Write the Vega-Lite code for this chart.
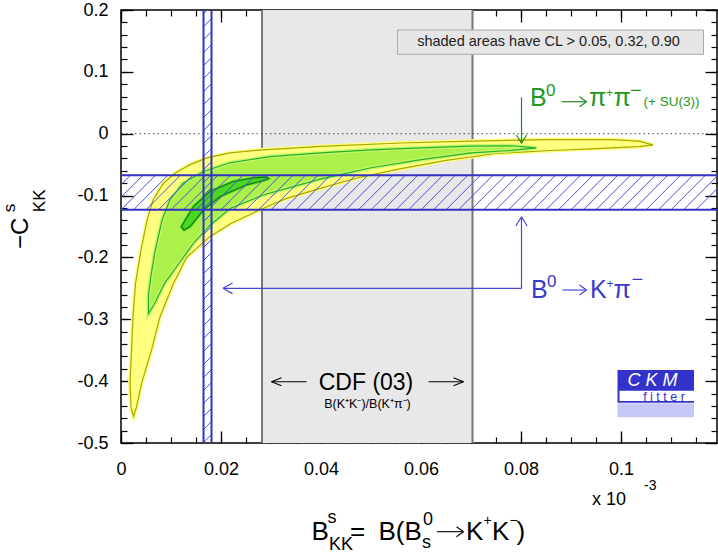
{
  "$schema": "https://vega.github.io/schema/vega-lite/v6.json",
  "width": 596,
  "height": 433,
  "autosize": {"type": "none"},
  "padding": {"left": 121, "top": 10, "right": 1, "bottom": 112},
  "background": "white",
  "config": {
    "font": "Liberation Sans",
    "view": {"stroke": "#000", "strokeWidth": 1.5}
  },
  "datasets": {
    "yellow": [
      {"i": 1, "x": 0.0025, "y": -0.457}, {"i": 2, "x": 0.002, "y": -0.442}, {"i": 3, "x": 0.0018, "y": -0.404},
      {"i": 4, "x": 0.0021, "y": -0.35}, {"i": 5, "x": 0.0024, "y": -0.296}, {"i": 6, "x": 0.0029, "y": -0.242},
      {"i": 7, "x": 0.004, "y": -0.188}, {"i": 8, "x": 0.0052, "y": -0.14}, {"i": 9, "x": 0.0064, "y": -0.107},
      {"i": 10, "x": 0.0085, "y": -0.08}, {"i": 11, "x": 0.0108, "y": -0.064}, {"i": 12, "x": 0.0138, "y": -0.05},
      {"i": 13, "x": 0.0172, "y": -0.039}, {"i": 14, "x": 0.0218, "y": -0.031}, {"i": 15, "x": 0.0284, "y": -0.026},
      {"i": 16, "x": 0.04, "y": -0.0205}, {"i": 17, "x": 0.056, "y": -0.015}, {"i": 18, "x": 0.07, "y": -0.012},
      {"i": 19, "x": 0.085, "y": -0.0095}, {"i": 20, "x": 0.098, "y": -0.0095}, {"i": 21, "x": 0.1035, "y": -0.012},
      {"i": 22, "x": 0.1064, "y": -0.018}, {"i": 23, "x": 0.1035, "y": -0.021}, {"i": 24, "x": 0.095, "y": -0.024},
      {"i": 25, "x": 0.085, "y": -0.0275}, {"i": 26, "x": 0.075, "y": -0.032}, {"i": 27, "x": 0.065, "y": -0.043},
      {"i": 28, "x": 0.055, "y": -0.058}, {"i": 29, "x": 0.047, "y": -0.072}, {"i": 30, "x": 0.04, "y": -0.088},
      {"i": 31, "x": 0.033, "y": -0.105}, {"i": 32, "x": 0.028, "y": -0.122}, {"i": 33, "x": 0.022, "y": -0.145},
      {"i": 34, "x": 0.0178, "y": -0.166}, {"i": 35, "x": 0.0131, "y": -0.2}, {"i": 36, "x": 0.0105, "y": -0.242},
      {"i": 37, "x": 0.0078, "y": -0.296}, {"i": 38, "x": 0.0061, "y": -0.35}, {"i": 39, "x": 0.0041, "y": -0.404},
      {"i": 40, "x": 0.0031, "y": -0.442}
    ],
    "lightgreen": [
      {"i": 1, "x": 0.0055, "y": -0.291}, {"i": 2, "x": 0.0055, "y": -0.26}, {"i": 3, "x": 0.006, "y": -0.23},
      {"i": 4, "x": 0.0068, "y": -0.19}, {"i": 5, "x": 0.0082, "y": -0.14}, {"i": 6, "x": 0.0098, "y": -0.107},
      {"i": 7, "x": 0.0124, "y": -0.08}, {"i": 8, "x": 0.0165, "y": -0.061}, {"i": 9, "x": 0.0218, "y": -0.047},
      {"i": 10, "x": 0.0298, "y": -0.037}, {"i": 11, "x": 0.04, "y": -0.031}, {"i": 12, "x": 0.05, "y": -0.026},
      {"i": 13, "x": 0.06, "y": -0.023}, {"i": 14, "x": 0.07, "y": -0.02}, {"i": 15, "x": 0.078, "y": -0.0195},
      {"i": 16, "x": 0.0831, "y": -0.023}, {"i": 17, "x": 0.078, "y": -0.027}, {"i": 18, "x": 0.07, "y": -0.031},
      {"i": 19, "x": 0.06, "y": -0.042}, {"i": 20, "x": 0.05, "y": -0.055}, {"i": 21, "x": 0.04, "y": -0.073},
      {"i": 22, "x": 0.0284, "y": -0.099}, {"i": 23, "x": 0.0218, "y": -0.121}, {"i": 24, "x": 0.0178, "y": -0.148},
      {"i": 25, "x": 0.0145, "y": -0.177}, {"i": 26, "x": 0.012, "y": -0.205}, {"i": 27, "x": 0.0087, "y": -0.242},
      {"i": 28, "x": 0.0067, "y": -0.275}
    ],
    "darkgreen": [
      {"i": 1, "x": 0.0125, "y": -0.1447}, {"i": 2, "x": 0.0145, "y": -0.1177}, {"i": 3, "x": 0.0178, "y": -0.0934},
      {"i": 4, "x": 0.0225, "y": -0.0772}, {"i": 5, "x": 0.0265, "y": -0.0715}, {"i": 6, "x": 0.0291, "y": -0.0702},
      {"i": 7, "x": 0.0295, "y": -0.0725}, {"i": 8, "x": 0.0288, "y": -0.0748}, {"i": 9, "x": 0.0251, "y": -0.0826},
      {"i": 10, "x": 0.0198, "y": -0.1015}, {"i": 11, "x": 0.0165, "y": -0.1231}, {"i": 12, "x": 0.0138, "y": -0.1501},
      {"i": 13, "x": 0.0126, "y": -0.1555}, {"i": 14, "x": 0.0121, "y": -0.1505}
    ],
    "hatchH": [
      {"a": -0.0075, "b": -0.0006}, {"a": -0.005, "b": 0.0019}, {"a": -0.0025, "b": 0.0044}, {"a": 0, "b": 0.0069},
      {"a": 0.0025, "b": 0.0094}, {"a": 0.005, "b": 0.0119}, {"a": 0.0075, "b": 0.0144}, {"a": 0.01, "b": 0.0169},
      {"a": 0.0125, "b": 0.0194}, {"a": 0.015, "b": 0.0219}, {"a": 0.0175, "b": 0.0244}, {"a": 0.02, "b": 0.0269},
      {"a": 0.0225, "b": 0.0294}, {"a": 0.025, "b": 0.0319}, {"a": 0.0275, "b": 0.0344}, {"a": 0.03, "b": 0.0369},
      {"a": 0.0325, "b": 0.0394}, {"a": 0.035, "b": 0.0419}, {"a": 0.0375, "b": 0.0444}, {"a": 0.04, "b": 0.0469},
      {"a": 0.0425, "b": 0.0494}, {"a": 0.045, "b": 0.0519}, {"a": 0.0475, "b": 0.0544}, {"a": 0.05, "b": 0.0569},
      {"a": 0.0525, "b": 0.0594}, {"a": 0.055, "b": 0.0619}, {"a": 0.0575, "b": 0.0644}, {"a": 0.06, "b": 0.0669},
      {"a": 0.0625, "b": 0.0694}, {"a": 0.065, "b": 0.0719}, {"a": 0.0675, "b": 0.0744}, {"a": 0.07, "b": 0.0769},
      {"a": 0.0725, "b": 0.0794}, {"a": 0.075, "b": 0.0819}, {"a": 0.0775, "b": 0.0844}, {"a": 0.08, "b": 0.0869},
      {"a": 0.0825, "b": 0.0894}, {"a": 0.085, "b": 0.0919}, {"a": 0.0875, "b": 0.0944}, {"a": 0.09, "b": 0.0969},
      {"a": 0.0925, "b": 0.0994}, {"a": 0.095, "b": 0.1019}, {"a": 0.0975, "b": 0.1044}, {"a": 0.1, "b": 0.1069},
      {"a": 0.1025, "b": 0.1094}, {"a": 0.105, "b": 0.1119}, {"a": 0.1075, "b": 0.1144}, {"a": 0.11, "b": 0.1169},
      {"a": 0.1125, "b": 0.1194}, {"a": 0.115, "b": 0.1219}
    ],
    "hatchV": [
      {"a": -0.52, "b": -0.5071}, {"a": -0.499, "b": -0.4861}, {"a": -0.478, "b": -0.4651}, {"a": -0.457, "b": -0.4441},
      {"a": -0.436, "b": -0.4231}, {"a": -0.415, "b": -0.4021}, {"a": -0.394, "b": -0.3811}, {"a": -0.373, "b": -0.3601},
      {"a": -0.352, "b": -0.3391}, {"a": -0.331, "b": -0.3181}, {"a": -0.31, "b": -0.2971}, {"a": -0.289, "b": -0.2761},
      {"a": -0.268, "b": -0.2551}, {"a": -0.247, "b": -0.2341}, {"a": -0.226, "b": -0.2131}, {"a": -0.205, "b": -0.1921},
      {"a": -0.184, "b": -0.1711}, {"a": -0.163, "b": -0.1501}, {"a": -0.142, "b": -0.1291}, {"a": -0.121, "b": -0.1081},
      {"a": -0.1, "b": -0.0871}, {"a": -0.079, "b": -0.0661}, {"a": -0.058, "b": -0.0451}, {"a": -0.037, "b": -0.0241},
      {"a": -0.016, "b": -0.0031}, {"a": 0.005, "b": 0.0179}, {"a": 0.026, "b": 0.0389}, {"a": 0.047, "b": 0.0599},
      {"a": 0.068, "b": 0.0809}, {"a": 0.089, "b": 0.1019}, {"a": 0.11, "b": 0.1229}, {"a": 0.131, "b": 0.1439},
      {"a": 0.152, "b": 0.1649}, {"a": 0.173, "b": 0.1859}, {"a": 0.194, "b": 0.2069}
    ],
    "arrows": [
      {"x": 0.0801, "y": 0.0588, "x2": 0.0801, "y2": -0.0155, "c": "g"},
      {"x": 0.0791, "y": -0.0021, "x2": 0.0801, "y2": -0.0155, "c": "g"},
      {"x": 0.0811, "y": -0.0021, "x2": 0.0801, "y2": -0.0155, "c": "g"},
      {"x": 0.0881, "y": 0.0517, "x2": 0.0931, "y2": 0.0517, "c": "g"},
      {"x": 0.0917, "y": 0.0598, "x2": 0.0931, "y2": 0.0517, "c": "g"},
      {"x": 0.0917, "y": 0.0436, "x2": 0.0931, "y2": 0.0517, "c": "g"},
      {"x": 0.0801, "y": -0.2499, "x2": 0.0801, "y2": -0.1342, "c": "b"},
      {"x": 0.07896, "y": -0.1492, "x2": 0.0801, "y2": -0.1342, "c": "b"},
      {"x": 0.08124, "y": -0.1492, "x2": 0.0801, "y2": -0.1342, "c": "b"},
      {"x": 0.0801, "y": -0.2499, "x2": 0.0204, "y2": -0.2499, "c": "b"},
      {"x": 0.0223, "y": -0.2413, "x2": 0.0204, "y2": -0.2499, "c": "b"},
      {"x": 0.0223, "y": -0.2585, "x2": 0.0204, "y2": -0.2499, "c": "b"},
      {"x": 0.0883, "y": -0.2527, "x2": 0.0931, "y2": -0.2527, "c": "b"},
      {"x": 0.0917, "y": -0.2446, "x2": 0.0931, "y2": -0.2527, "c": "b"},
      {"x": 0.0917, "y": -0.2608, "x2": 0.0931, "y2": -0.2527, "c": "b"},
      {"x": 0.0371, "y": -0.4009, "x2": 0.0301, "y2": -0.4009, "c": "k"},
      {"x": 0.0321, "y": -0.3944, "x2": 0.0301, "y2": -0.4009, "c": "k"},
      {"x": 0.0321, "y": -0.4074, "x2": 0.0301, "y2": -0.4009, "c": "k"},
      {"x": 0.0615, "y": -0.4009, "x2": 0.0685, "y2": -0.4009, "c": "k"},
      {"x": 0.0665, "y": -0.3944, "x2": 0.0685, "y2": -0.4009, "c": "k"},
      {"x": 0.0665, "y": -0.4074, "x2": 0.0685, "y2": -0.4009, "c": "k"},
      {"x": 0.0632, "y": -0.6434, "x2": 0.0685, "y2": -0.6434, "c": "k"},
      {"x": 0.0671, "y": -0.6353, "x2": 0.0685, "y2": -0.6434, "c": "k"},
      {"x": 0.0671, "y": -0.6515, "x2": 0.0685, "y2": -0.6434, "c": "k"}
    ],
    "boxes": [
      {"x": 0.0553, "x2": 0.1165, "y": 0.1284, "y2": 0.1676, "g": "legend"},
      {"x": 0.0993, "x2": 0.1146, "y": -0.4349, "y2": -0.382, "g": "logo"},
      {"x": 0.0997, "x2": 0.1146, "y": -0.4321, "y2": -0.4155, "g": "strip"},
      {"x": 0.0993, "x2": 0.1146, "y": -0.4585, "y2": -0.4358, "g": "under"}
    ],
    "txt": [
      {"t": "B", "x": 0.0381, "y": -0.6568, "g": "xt"},
      {"t": "=", "x": 0.0458, "y": -0.6568, "g": "xt"},
      {"t": "B(B", "x": 0.0515, "y": -0.6568, "g": "xt"},
      {"t": "K", "x": 0.069, "y": -0.6568, "g": "xt"},
      {"t": "K", "x": 0.0742, "y": -0.6568, "g": "xt"},
      {"t": ")", "x": 0.0791, "y": -0.6568, "g": "xt"},
      {"t": "s", "x": 0.0413, "y": -0.6293, "g": "xs"},
      {"t": "KK", "x": 0.0416, "y": -0.673, "g": "xs"},
      {"t": "0", "x": 0.0604, "y": -0.6326, "g": "xs"},
      {"t": "s", "x": 0.0602, "y": -0.6697, "g": "xs"},
      {"t": "x 10", "x": 0.0942, "y": -0.6002, "g": "xs"},
      {"t": "+", "x": 0.0725, "y": -0.6326, "g": "xp"},
      {"t": "−", "x": 0.0777, "y": -0.6326, "g": "xp"},
      {"t": "-3", "x": 0.1046, "y": -0.576, "g": "xp"},
      {"t": "−C", "x": -0.0186, "y": -0.1864, "g": "yt"},
      {"t": "s", "x": -0.0212, "y": -0.1269, "g": "ys"},
      {"t": "KK", "x": -0.0152, "y": -0.1269, "g": "ys"},
      {"t": "B", "x": 0.0818, "y": 0.0448, "g": "gm"},
      {"t": "π", "x": 0.0936, "y": 0.0448, "g": "gm"},
      {"t": "π", "x": 0.0985, "y": 0.0448, "g": "gm"},
      {"t": "0", "x": 0.085, "y": 0.0609, "g": "gs"},
      {"t": "+", "x": 0.097, "y": 0.0593, "g": "gp"},
      {"t": "−", "x": 0.1018, "y": 0.0593, "g": "gq"},
      {"t": "(+ SU(3))", "x": 0.1045, "y": 0.0448, "g": "gu"},
      {"t": "B", "x": 0.082, "y": -0.2661, "g": "bm"},
      {"t": "K", "x": 0.0938, "y": -0.2661, "g": "bm"},
      {"t": "π", "x": 0.0985, "y": -0.2661, "g": "bm"},
      {"t": "0", "x": 0.0852, "y": -0.2478, "g": "bs"},
      {"t": "+", "x": 0.0971, "y": -0.2494, "g": "bp"},
      {"t": "−", "x": 0.1021, "y": -0.2462, "g": "bq"},
      {"t": "CDF (03)", "x": 0.049, "y": -0.4143, "g": "cm"},
      {"t": "B(K⁺K⁻)/B(K⁺π⁻)", "x": 0.0493, "y": -0.4439, "g": "cs"},
      {"t": "shaded areas have CL > 0.05, 0.32, 0.90", "x": 0.0855, "y": 0.1482, "g": "lg"},
      {"t": "C K M", "x": 0.1063, "y": -0.4071, "g": "ck"},
      {"t": "f i t t e r", "x": 0.1086, "y": -0.4325, "g": "ft"}
    ]
  },
  "resolve": {"axis": {"x": "independent", "y": "independent"}},
  "layer": [
    {
      "data": {"values": [{}]},
      "mark": {"type": "rect", "fill": "#e8e8e8"},
      "encoding": {
        "x": {"datum": 0.0282, "type": "quantitative", "axis": null},
        "x2": {"datum": 0.0703}
      }
    },
    {
      "data": {"values": [{"v": 0.0282}, {"v": 0.0703}]},
      "mark": {"type": "rule", "color": "#777777", "strokeWidth": 2},
      "encoding": {"x": {"field": "v", "type": "quantitative", "axis": null}}
    },
    {
      "data": {"values": [{}]},
      "mark": {"type": "rule", "color": "#444444", "strokeWidth": 1, "strokeDash": [1.5, 3]},
      "encoding": {"y": {"datum": 0, "type": "quantitative", "axis": null}}
    },
    {
      "data": {"name": "yellow"},
      "mark": {"type": "line", "interpolate": "linear-closed", "fill": "#ffff80", "stroke": "#ffff80", "strokeWidth": 4},
      "encoding": {
        "x": {"field": "x", "type": "quantitative", "axis": null},
        "y": {"field": "y", "type": "quantitative", "axis": null},
        "order": {"field": "i"}
      }
    },
    {
      "data": {"name": "yellow"},
      "mark": {"type": "line", "interpolate": "linear-closed", "stroke": "#a8a800", "strokeWidth": 1.2},
      "encoding": {
        "x": {"field": "x", "type": "quantitative", "axis": null},
        "y": {"field": "y", "type": "quantitative", "axis": null},
        "order": {"field": "i"}
      }
    },
    {
      "data": {"name": "lightgreen"},
      "mark": {"type": "line", "interpolate": "linear-closed", "fill": "#acf04a", "stroke": "#c8f46e", "strokeWidth": 4},
      "encoding": {
        "x": {"field": "x", "type": "quantitative", "axis": null},
        "y": {"field": "y", "type": "quantitative", "axis": null},
        "order": {"field": "i"}
      }
    },
    {
      "data": {"name": "lightgreen"},
      "mark": {"type": "line", "interpolate": "linear-closed", "stroke": "#22b422", "strokeWidth": 1.2},
      "encoding": {
        "x": {"field": "x", "type": "quantitative", "axis": null},
        "y": {"field": "y", "type": "quantitative", "axis": null},
        "order": {"field": "i"}
      }
    },
    {
      "data": {"name": "darkgreen"},
      "mark": {"type": "line", "interpolate": "linear-closed", "fill": "#4ad820", "stroke": "#4ad820", "strokeWidth": 3},
      "encoding": {
        "x": {"field": "x", "type": "quantitative", "axis": null},
        "y": {"field": "y", "type": "quantitative", "axis": null},
        "order": {"field": "i"}
      }
    },
    {
      "data": {"name": "darkgreen"},
      "mark": {"type": "line", "interpolate": "linear-closed", "stroke": "#137a13", "strokeWidth": 1.2},
      "encoding": {
        "x": {"field": "x", "type": "quantitative", "axis": null},
        "y": {"field": "y", "type": "quantitative", "axis": null},
        "order": {"field": "i"}
      }
    },
    {
      "data": {"name": "hatchH"},
      "mark": {"type": "rule", "color": "#5050d8", "strokeWidth": 1, "clip": true},
      "encoding": {
        "x": {"field": "a", "type": "quantitative", "axis": null},
        "x2": {"field": "b"},
        "y": {"datum": -0.123, "type": "quantitative", "axis": null},
        "y2": {"datum": -0.067}
      }
    },
    {
      "data": {"name": "hatchV"},
      "mark": {"type": "rule", "color": "#5050d8", "strokeWidth": 1, "clip": true},
      "encoding": {
        "x": {"datum": 0.0165, "type": "quantitative", "axis": null},
        "x2": {"datum": 0.0181},
        "y": {"field": "a", "type": "quantitative", "axis": null},
        "y2": {"field": "b"}
      }
    },
    {
      "data": {"values": [{"v": -0.067}, {"v": -0.123}]},
      "mark": {"type": "rule", "color": "#3232c4", "strokeWidth": 2},
      "encoding": {"y": {"field": "v", "type": "quantitative", "axis": null}}
    },
    {
      "data": {"values": [{"v": 0.0165}, {"v": 0.0181}]},
      "mark": {"type": "rule", "color": "#3232c4", "strokeWidth": 2},
      "encoding": {"x": {"field": "v", "type": "quantitative", "axis": null}}
    },
    {
      "data": {"name": "arrows"},
      "transform": [{"filter": "datum.c == 'g'"}],
      "mark": {"type": "rule", "color": "#228a22", "strokeWidth": 1.2},
      "encoding": {
        "x": {"field": "x", "type": "quantitative", "axis": null}, "x2": {"field": "x2"},
        "y": {"field": "y", "type": "quantitative", "axis": null}, "y2": {"field": "y2"}
      }
    },
    {
      "data": {"name": "arrows"},
      "transform": [{"filter": "datum.c == 'b'"}],
      "mark": {"type": "rule", "color": "#4848d4", "strokeWidth": 1.2},
      "encoding": {
        "x": {"field": "x", "type": "quantitative", "axis": null}, "x2": {"field": "x2"},
        "y": {"field": "y", "type": "quantitative", "axis": null}, "y2": {"field": "y2"}
      }
    },
    {
      "data": {"name": "arrows"},
      "transform": [{"filter": "datum.c == 'k'"}],
      "mark": {"type": "rule", "color": "#000000", "strokeWidth": 1.1},
      "encoding": {
        "x": {"field": "x", "type": "quantitative", "axis": null}, "x2": {"field": "x2"},
        "y": {"field": "y", "type": "quantitative", "axis": null}, "y2": {"field": "y2"}
      }
    },
    {
      "data": {"name": "boxes"},
      "transform": [{"filter": "datum.g == 'legend'"}],
      "mark": {"type": "rect", "fill": "#e6e6e6", "stroke": "#aaaaaa", "strokeWidth": 1},
      "encoding": {
        "x": {"field": "x", "type": "quantitative", "axis": null}, "x2": {"field": "x2"},
        "y": {"field": "y", "type": "quantitative", "axis": null}, "y2": {"field": "y2"}
      }
    },
    {
      "data": {"name": "boxes"},
      "transform": [{"filter": "datum.g == 'logo'"}],
      "mark": {"type": "rect", "fill": "#3333cc"},
      "encoding": {
        "x": {"field": "x", "type": "quantitative", "axis": null}, "x2": {"field": "x2"},
        "y": {"field": "y", "type": "quantitative", "axis": null}, "y2": {"field": "y2"}
      }
    },
    {
      "data": {"name": "boxes"},
      "transform": [{"filter": "datum.g == 'strip'"}],
      "mark": {"type": "rect", "fill": "#ffffff"},
      "encoding": {
        "x": {"field": "x", "type": "quantitative", "axis": null}, "x2": {"field": "x2"},
        "y": {"field": "y", "type": "quantitative", "axis": null}, "y2": {"field": "y2"}
      }
    },
    {
      "data": {"name": "boxes"},
      "transform": [{"filter": "datum.g == 'under'"}],
      "mark": {"type": "rect", "fill": "#c8c8f6"},
      "encoding": {
        "x": {"field": "x", "type": "quantitative", "axis": null}, "x2": {"field": "x2"},
        "y": {"field": "y", "type": "quantitative", "axis": null}, "y2": {"field": "y2"}
      }
    },
    {
      "data": {"name": "txt"},
      "transform": [{"filter": "datum.g == 'xt'"}],
      "mark": {"type": "text", "align": "left", "baseline": "alphabetic", "fontSize": 26, "color": "#000"},
      "encoding": {
        "x": {"field": "x", "type": "quantitative", "axis": null},
        "y": {"field": "y", "type": "quantitative", "axis": null},
        "text": {"field": "t"}
      }
    },
    {
      "data": {"name": "txt"},
      "transform": [{"filter": "datum.g == 'xs'"}],
      "mark": {"type": "text", "align": "left", "baseline": "alphabetic", "fontSize": 18, "color": "#000"},
      "encoding": {
        "x": {"field": "x", "type": "quantitative", "axis": null},
        "y": {"field": "y", "type": "quantitative", "axis": null},
        "text": {"field": "t"}
      }
    },
    {
      "data": {"name": "txt"},
      "transform": [{"filter": "datum.g == 'xp'"}],
      "mark": {"type": "text", "align": "left", "baseline": "alphabetic", "fontSize": 14, "color": "#000"},
      "encoding": {
        "x": {"field": "x", "type": "quantitative", "axis": null},
        "y": {"field": "y", "type": "quantitative", "axis": null},
        "text": {"field": "t"}
      }
    },
    {
      "data": {"name": "txt"},
      "transform": [{"filter": "datum.g == 'yt'"}],
      "mark": {"type": "text", "align": "left", "baseline": "alphabetic", "angle": 270, "fontSize": 24, "color": "#000"},
      "encoding": {
        "x": {"field": "x", "type": "quantitative", "axis": null},
        "y": {"field": "y", "type": "quantitative", "axis": null},
        "text": {"field": "t"}
      }
    },
    {
      "data": {"name": "txt"},
      "transform": [{"filter": "datum.g == 'ys'"}],
      "mark": {"type": "text", "align": "left", "baseline": "alphabetic", "angle": 270, "fontSize": 17, "color": "#000"},
      "encoding": {
        "x": {"field": "x", "type": "quantitative", "axis": null},
        "y": {"field": "y", "type": "quantitative", "axis": null},
        "text": {"field": "t"}
      }
    },
    {
      "data": {"name": "txt"},
      "transform": [{"filter": "datum.g == 'gm'"}],
      "mark": {"type": "text", "align": "left", "baseline": "alphabetic", "fontSize": 25, "color": "#229922"},
      "encoding": {
        "x": {"field": "x", "type": "quantitative", "axis": null},
        "y": {"field": "y", "type": "quantitative", "axis": null},
        "text": {"field": "t"}
      }
    },
    {
      "data": {"name": "txt"},
      "transform": [{"filter": "datum.g == 'gs'"}],
      "mark": {"type": "text", "align": "left", "baseline": "alphabetic", "fontSize": 17, "color": "#229922"},
      "encoding": {
        "x": {"field": "x", "type": "quantitative", "axis": null},
        "y": {"field": "y", "type": "quantitative", "axis": null},
        "text": {"field": "t"}
      }
    },
    {
      "data": {"name": "txt"},
      "transform": [{"filter": "datum.g == 'gp'"}],
      "mark": {"type": "text", "align": "left", "baseline": "alphabetic", "fontSize": 12, "color": "#229922"},
      "encoding": {
        "x": {"field": "x", "type": "quantitative", "axis": null},
        "y": {"field": "y", "type": "quantitative", "axis": null},
        "text": {"field": "t"}
      }
    },
    {
      "data": {"name": "txt"},
      "transform": [{"filter": "datum.g == 'gq'"}],
      "mark": {"type": "text", "align": "left", "baseline": "alphabetic", "fontSize": 20, "color": "#229922"},
      "encoding": {
        "x": {"field": "x", "type": "quantitative", "axis": null},
        "y": {"field": "y", "type": "quantitative", "axis": null},
        "text": {"field": "t"}
      }
    },
    {
      "data": {"name": "txt"},
      "transform": [{"filter": "datum.g == 'gu'"}],
      "mark": {"type": "text", "align": "left", "baseline": "alphabetic", "fontSize": 13.5, "color": "#229922"},
      "encoding": {
        "x": {"field": "x", "type": "quantitative", "axis": null},
        "y": {"field": "y", "type": "quantitative", "axis": null},
        "text": {"field": "t"}
      }
    },
    {
      "data": {"name": "txt"},
      "transform": [{"filter": "datum.g == 'bm'"}],
      "mark": {"type": "text", "align": "left", "baseline": "alphabetic", "fontSize": 25, "color": "#3a3acc"},
      "encoding": {
        "x": {"field": "x", "type": "quantitative", "axis": null},
        "y": {"field": "y", "type": "quantitative", "axis": null},
        "text": {"field": "t"}
      }
    },
    {
      "data": {"name": "txt"},
      "transform": [{"filter": "datum.g == 'bs'"}],
      "mark": {"type": "text", "align": "left", "baseline": "alphabetic", "fontSize": 17, "color": "#3a3acc"},
      "encoding": {
        "x": {"field": "x", "type": "quantitative", "axis": null},
        "y": {"field": "y", "type": "quantitative", "axis": null},
        "text": {"field": "t"}
      }
    },
    {
      "data": {"name": "txt"},
      "transform": [{"filter": "datum.g == 'bp'"}],
      "mark": {"type": "text", "align": "left", "baseline": "alphabetic", "fontSize": 12, "color": "#3a3acc"},
      "encoding": {
        "x": {"field": "x", "type": "quantitative", "axis": null},
        "y": {"field": "y", "type": "quantitative", "axis": null},
        "text": {"field": "t"}
      }
    },
    {
      "data": {"name": "txt"},
      "transform": [{"filter": "datum.g == 'bq'"}],
      "mark": {"type": "text", "align": "left", "baseline": "alphabetic", "fontSize": 20, "color": "#3a3acc"},
      "encoding": {
        "x": {"field": "x", "type": "quantitative", "axis": null},
        "y": {"field": "y", "type": "quantitative", "axis": null},
        "text": {"field": "t"}
      }
    },
    {
      "data": {"name": "txt"},
      "transform": [{"filter": "datum.g == 'cm'"}],
      "mark": {"type": "text", "align": "center", "baseline": "alphabetic", "fontSize": 23, "color": "#000"},
      "encoding": {
        "x": {"field": "x", "type": "quantitative", "axis": null},
        "y": {"field": "y", "type": "quantitative", "axis": null},
        "text": {"field": "t"}
      }
    },
    {
      "data": {"name": "txt"},
      "transform": [{"filter": "datum.g == 'cs'"}],
      "mark": {"type": "text", "align": "center", "baseline": "alphabetic", "fontSize": 12.5, "color": "#000"},
      "encoding": {
        "x": {"field": "x", "type": "quantitative", "axis": null},
        "y": {"field": "y", "type": "quantitative", "axis": null},
        "text": {"field": "t"}
      }
    },
    {
      "data": {"name": "txt"},
      "transform": [{"filter": "datum.g == 'lg'"}],
      "mark": {"type": "text", "align": "center", "baseline": "middle", "fontSize": 14.5, "color": "#222"},
      "encoding": {
        "x": {"field": "x", "type": "quantitative", "axis": null},
        "y": {"field": "y", "type": "quantitative", "axis": null},
        "text": {"field": "t"}
      }
    },
    {
      "data": {"name": "txt"},
      "transform": [{"filter": "datum.g == 'ck'"}],
      "mark": {"type": "text", "align": "center", "baseline": "alphabetic", "fontSize": 18, "fontStyle": "italic", "color": "#ffffff"},
      "encoding": {
        "x": {"field": "x", "type": "quantitative", "axis": null},
        "y": {"field": "y", "type": "quantitative", "axis": null},
        "text": {"field": "t"}
      }
    },
    {
      "data": {"name": "txt"},
      "transform": [{"filter": "datum.g == 'ft'"}],
      "mark": {"type": "text", "align": "center", "baseline": "alphabetic", "fontSize": 12.5, "color": "#3333cc"},
      "encoding": {
        "x": {"field": "x", "type": "quantitative", "axis": null},
        "y": {"field": "y", "type": "quantitative", "axis": null},
        "text": {"field": "t"}
      }
    },
    {
      "data": {"values": [{}]},
      "mark": {"type": "point", "opacity": 0},
      "encoding": {
        "x": {
          "datum": 0, "type": "quantitative",
          "scale": {"domain": [0, 0.1192], "nice": false, "zero": false},
          "axis": {
            "orient": "bottom", "values": [0, 0.02, 0.04, 0.06, 0.08, 0.1],
            "tickSize": -12, "tickWidth": 1.3, "tickColor": "#000",
            "labelPadding": 29, "labelFontSize": 18, "labelColor": "#000",
            "labelExpr": "format(datum.value, '~g')",
            "labelFlush": false, "labelOverlap": false,
            "domain": false, "grid": false, "title": null
          }
        },
        "y": {
          "datum": 0, "type": "quantitative",
          "scale": {"domain": [-0.5, 0.2], "nice": false, "zero": false},
          "axis": {
            "orient": "left", "values": [-0.5, -0.4, -0.3, -0.2, -0.1, 0, 0.1, 0.2],
            "tickSize": -12, "tickWidth": 1.3, "tickColor": "#000",
            "labelPadding": 25, "labelFontSize": 18, "labelColor": "#000",
            "labelExpr": "datum.value < 0 ? '-' + format(-datum.value, '~g') : format(datum.value, '~g')",
            "labelFlush": false, "labelOverlap": false,
            "domain": false, "grid": false, "title": null
          }
        }
      }
    },
    {
      "data": {"values": [{}]},
      "mark": {"type": "point", "opacity": 0},
      "encoding": {
        "x": {
          "datum": 0, "type": "quantitative",
          "axis": {
            "orient": "bottom",
            "values": [0, 0.005, 0.01, 0.015, 0.02, 0.025, 0.03, 0.035, 0.04, 0.045, 0.05, 0.055, 0.06, 0.065, 0.07, 0.075, 0.08, 0.085, 0.09, 0.095, 0.1, 0.105, 0.11, 0.115],
            "tickSize": -6, "tickWidth": 1.2, "tickColor": "#000",
            "labels": false, "domain": false, "grid": false, "title": null
          }
        },
        "y": {
          "datum": 0, "type": "quantitative",
          "axis": {
            "orient": "left",
            "values": [-0.5, -0.48, -0.46, -0.44, -0.42, -0.4, -0.38, -0.36, -0.34, -0.32, -0.3, -0.28, -0.26, -0.24, -0.22, -0.2, -0.18, -0.16, -0.14, -0.12, -0.1, -0.08, -0.06, -0.04, -0.02, 0, 0.02, 0.04, 0.06, 0.08, 0.1, 0.12, 0.14, 0.16, 0.18, 0.2],
            "tickSize": -6, "tickWidth": 1.2, "tickColor": "#000",
            "labels": false, "domain": false, "grid": false, "title": null
          }
        }
      }
    },
    {
      "data": {"values": [{}]},
      "mark": {"type": "point", "opacity": 0},
      "encoding": {
        "x": {
          "datum": 0, "type": "quantitative",
          "axis": {
            "orient": "top", "values": [0, 0.02, 0.04, 0.06, 0.08, 0.1],
            "tickSize": -12, "tickWidth": 1.3, "tickColor": "#000",
            "labels": false, "domain": false, "grid": false, "title": null
          }
        },
        "y": {
          "datum": 0, "type": "quantitative",
          "axis": {
            "orient": "right", "values": [-0.5, -0.4, -0.3, -0.2, -0.1, 0, 0.1, 0.2],
            "tickSize": -12, "tickWidth": 1.3, "tickColor": "#000",
            "labels": false, "domain": false, "grid": false, "title": null
          }
        }
      }
    },
    {
      "data": {"values": [{}]},
      "mark": {"type": "point", "opacity": 0},
      "encoding": {
        "x": {
          "datum": 0, "type": "quantitative",
          "axis": {
            "orient": "top",
            "values": [0, 0.005, 0.01, 0.015, 0.02, 0.025, 0.03, 0.035, 0.04, 0.045, 0.05, 0.055, 0.06, 0.065, 0.07, 0.075, 0.08, 0.085, 0.09, 0.095, 0.1, 0.105, 0.11, 0.115],
            "tickSize": -6, "tickWidth": 1.2, "tickColor": "#000",
            "labels": false, "domain": false, "grid": false, "title": null
          }
        },
        "y": {
          "datum": 0, "type": "quantitative",
          "axis": {
            "orient": "right",
            "values": [-0.5, -0.48, -0.46, -0.44, -0.42, -0.4, -0.38, -0.36, -0.34, -0.32, -0.3, -0.28, -0.26, -0.24, -0.22, -0.2, -0.18, -0.16, -0.14, -0.12, -0.1, -0.08, -0.06, -0.04, -0.02, 0, 0.02, 0.04, 0.06, 0.08, 0.1, 0.12, 0.14, 0.16, 0.18, 0.2],
            "tickSize": -6, "tickWidth": 1.2, "tickColor": "#000",
            "labels": false, "domain": false, "grid": false, "title": null
          }
        }
      }
    }
  ]
}
